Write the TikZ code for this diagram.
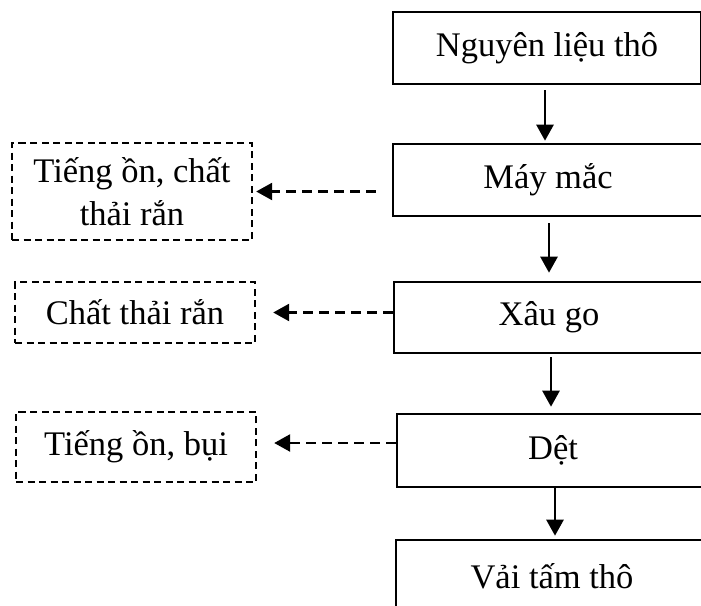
\documentclass[tikz,border=0pt]{standalone}
\usepackage{fontspec}
\setmainfont{Liberation Serif}
\usetikzlibrary{arrows.meta,calc}
\begin{document}
\begin{tikzpicture}[x=1pt,y=-1pt,
  every node/.style={font=\fontsize{34.5}{43}\selectfont, inner sep=0pt, align=center},
  procbox/.style={draw, line width=2.6pt, rectangle},
  wastebox/.style={draw, line width=2.4pt, dash pattern=on 7pt off 4.5pt, rectangle},
  arr/.style={line width=2.6pt, -{Triangle[length=16pt,width=17pt]}},
  darr/.style={line width=2.6pt, dash pattern=on 10pt off 6pt, -{Triangle[length=16pt,width=17pt]}}
]
\useasboundingbox (0,0) rectangle (701,605);
% process column
\node[procbox, minimum width=308, minimum height=72] (n1) at (547,48) {Nguyên liệu thô};
\node[procbox, minimum width=310, minimum height=72] (n2) at (548,180) {Máy mắc};
\node[procbox, minimum width=310, minimum height=71] (n3) at (549,317.5) {Xâu go};
\node[procbox, minimum width=312, minimum height=73] (n4) at (553,450.5) {Dệt};
\node[procbox, minimum width=312, minimum height=72] (n5) at (552,576) {Vải tấm thô};
% waste boxes
\node[wastebox, minimum width=240, minimum height=97] (wA) at (132,191.5) {Tiếng ồn, chất\\thải rắn};
\node[wastebox, minimum width=240, minimum height=61] (wB) at (135,312.5) {Chất thải rắn};
\node[wastebox, minimum width=240, minimum height=70] (wC) at (136,447) {Tiếng ồn, bụi};
% vertical arrows
\draw[arr, shorten <=5pt, shorten >=2pt] ($(n1.south)+(-2,0)$) coordinate (a1) -- (a1 |- n2.north);
\draw[arr, shorten <=6pt, shorten >=8pt] ($(n2.south)+(1,0)$) coordinate (a2) -- (a2 |- n3.north);
\draw[arr, shorten <=3pt, shorten >=6pt] ($(n3.south)+(2,0)$) coordinate (a3) -- (a3 |- n4.north);
\draw[arr, shorten >=3pt] ($(n4.south)+(2,0)$) coordinate (a4) -- (a4 |- n5.north);
% dashed side arrows
\draw[darr, shorten <=16pt, shorten >=3pt] (n2.west |- wA.east) -- (wA.east);
\draw[darr, shorten >=17pt] (n3.west |- wB.east) -- (wB.east);
\draw[darr, shorten >=17pt] ($(wC.east)+(0,-4)$) coordinate (cC) (cC -| n4.west) -- (cC);
\end{tikzpicture}
\end{document}
